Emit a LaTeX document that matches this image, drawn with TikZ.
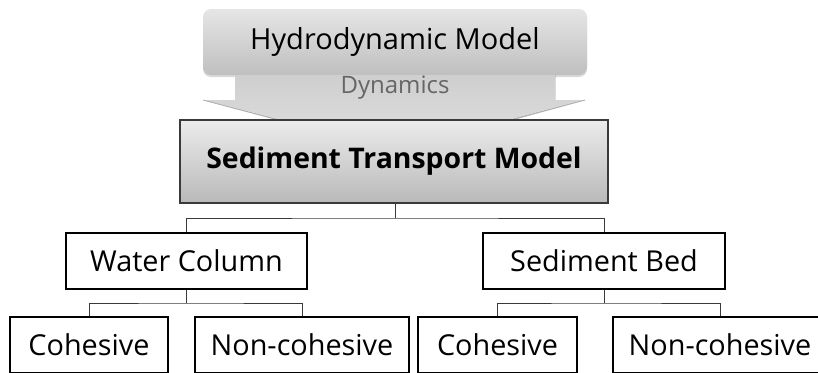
\documentclass[tikz,border=0pt]{standalone}
\usepackage{fontspec}
\setmainfont{Open Sans}
\usetikzlibrary{shadows}
\definecolor{edge}{HTML}{3A3A3A}
\tikzset{
  leaf/.style={draw=black, line width=1.3pt, fill=white, inner sep=0pt, font=\fontsize{28.8}{30}\selectfont},
  link/.style={draw=edge, line width=1pt},
}
\begin{document}
\begin{tikzpicture}[x=1pt,y=-1pt]
\useasboundingbox (0,0) rectangle (818,372);
\clip (0,0) rectangle (818,372);
% hydrodynamic model
\node[rounded corners=8pt, top color=gray!20, bottom color=gray!50, draw=none,
      minimum width=384pt, minimum height=66pt, inner sep=0pt,
      drop shadow={shadow xshift=0pt, shadow yshift=-2pt, opacity=0.3},
      font=\fontsize{29}{31}\selectfont] (hydro) at (395,42) {Hydrodynamic Model};
% block arrow
\fill[top color=gray!38, bottom color=gray!24, draw=none]
  (235,75) -- (555,75) -- (555,100) -- (585,100) -- (395,150) -- (203,100) -- (235,100) -- cycle;
\draw[gray!60, line width=0.8pt] (203,100) -- (280,120.5) (585,100) -- (510,120.5);
\node[text=gray!80!black, font=\fontsize{24}{26}\selectfont] (dyn) at (395,88) {Dynamics};
% sediment transport model
\node[top color=gray!15, bottom color=gray!55, draw=edge, line width=1.3pt,
      minimum width=428pt, minimum height=83pt, inner sep=0pt,
      font=\bfseries\fontsize{28.4}{30}\selectfont] (stm) at (394,161.5) {Sediment Transport Model};
% second level
\node[leaf, minimum width=241pt, minimum height=56pt] (wc) at (186.5,261) {Water Column};
\node[leaf, minimum width=242pt, minimum height=56pt] (sb) at (604,261) {Sediment Bed};
% third level
\node[leaf, minimum width=158pt, minimum height=56pt] (c1) at (89,345) {Cohesive};
\node[leaf, minimum width=214pt, minimum height=56pt] (n1) at (302,345) {Non-cohesive};
\node[leaf, minimum width=159pt, minimum height=56pt] (c2) at (497.5,345) {Cohesive};
\node[leaf, minimum width=214pt, minimum height=56pt] (n2) at (720,345) {Non-cohesive};
% connectors
\coordinate (j0) at (395,218);
\draw[link] (stm.south -| j0) -- (j0);
\draw[link] (wc.north) |- (j0) -| (sb.north);
\coordinate (j1) at (186.5,303);
\draw[link] (wc.south) -- (j1);
\draw[link] (c1.north) |- (j1) -| (n1.north);
\coordinate (j2) at (604,303);
\draw[link] (sb.south) -- (j2);
\draw[link] (c2.north) |- (j2) -| (n2.north);
\end{tikzpicture}
\end{document}
